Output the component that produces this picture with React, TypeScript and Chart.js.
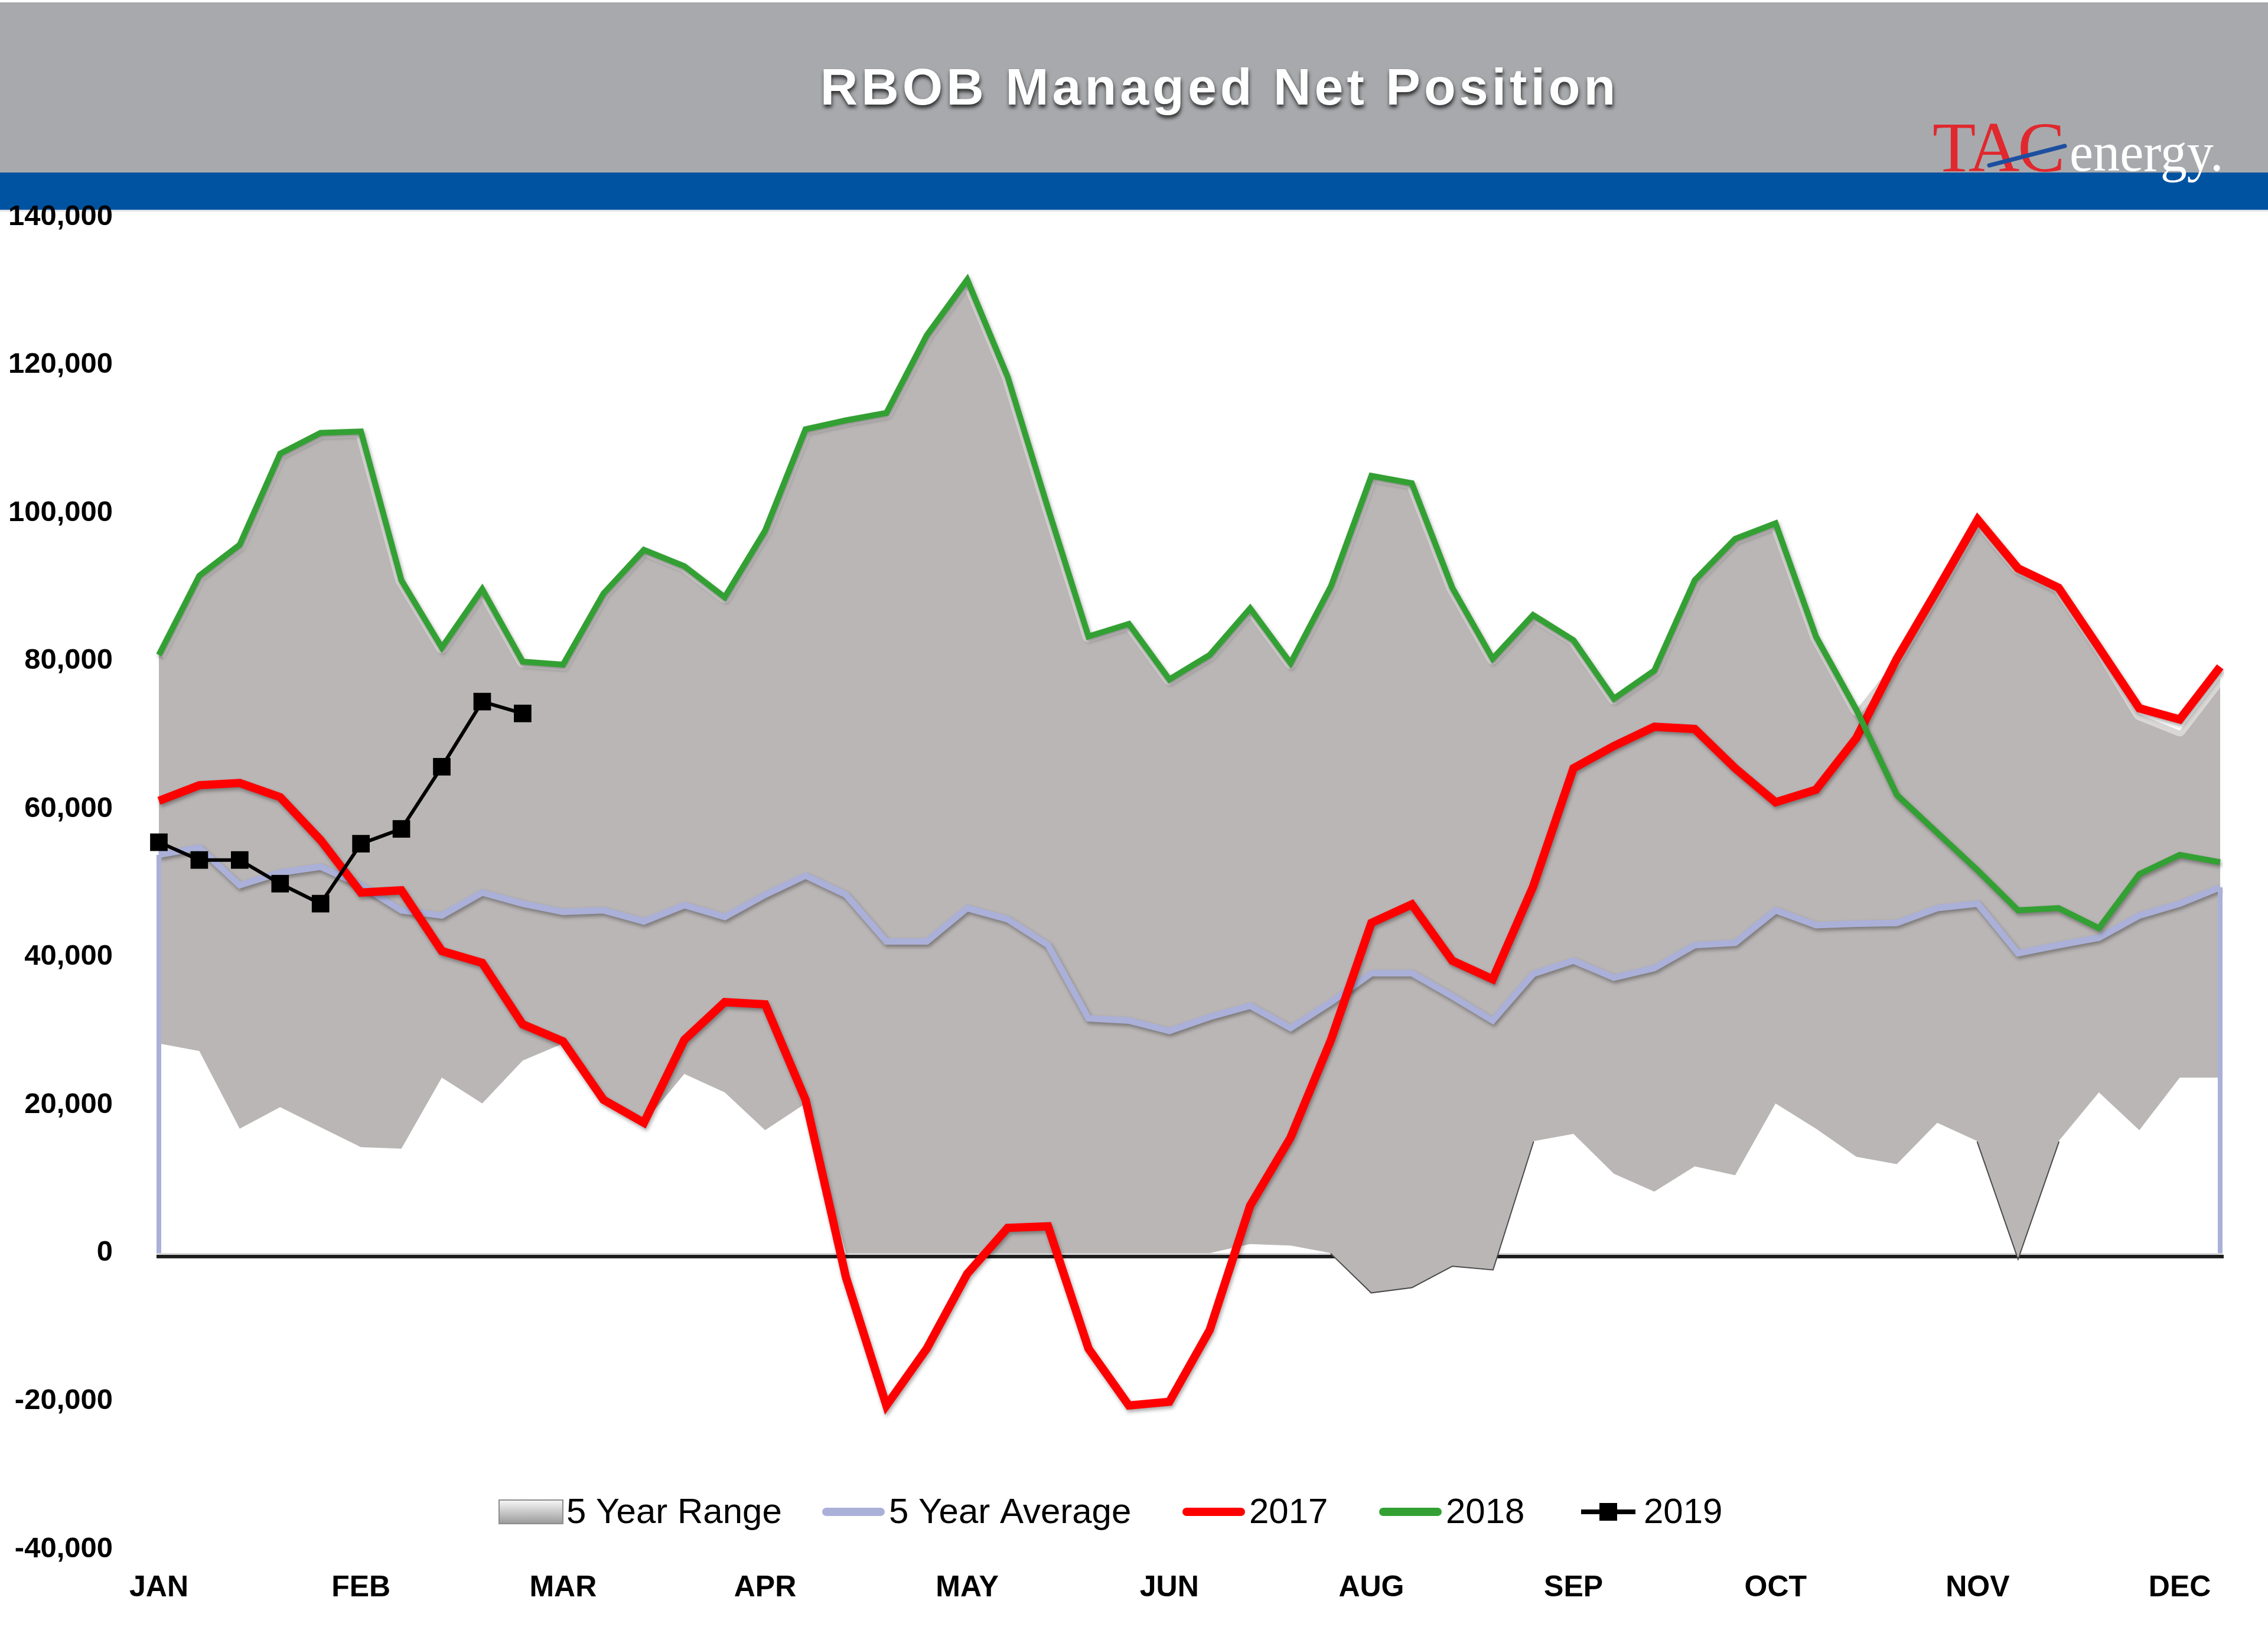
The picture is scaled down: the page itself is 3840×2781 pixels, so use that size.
import React, { useEffect, useRef } from 'react';
import { Chart, registerables } from 'chart.js';

Chart.register(...registerables);

// ---------- data ----------
const monthLabels = ['JAN', 'FEB', 'MAR', 'APR', 'MAY', 'JUN', 'AUG', 'SEP', 'OCT', 'NOV', 'DEC'];
const weekCount = 52;
const weeksPerLabel = 5;

const rangeMax = [
  80800, 91500, 95700, 108000, 110800, 111000, 90900, 81800, 89700, 79900,
  79500, 89100, 95000, 92800, 88600, 97600, 111300, 112500, 113500, 124000,
  131500, 118400, 100600, 83300, 85000, 77500, 80800, 87100, 79700, 90100,
  105000, 104000, 89900, 80300, 86200, 82800, 74900, 78700, 90900, 96500,
  98600, 83300, 73400, 80300, 89600, 99100, 92500, 89900, 81800, 72800,
  70600, 77700,
];
const rangeMin = [
  28300, 27300, 16800, 19700, 17000, 14300, 14100, 23700, 20200, 26000,
  28300, 20700, 17600, 24200, 21700, 16600, 20200, 0, 0, 0,
  0, 0, 0, 0, 0, 0, 0, 1200, 1000, 0,
  -5300, -4600, -1700, -2200, 15100, 16100, 10700, 8300, 11700, 10500,
  20200, 16800, 13000, 12000, 17600, 15100, -600, 15100, 21700, 16600,
  23700, 23700,
];
const avg5 = [
  53800, 54800, 49700, 51400, 52200, 49700, 46300, 45600, 48700, 47200,
  46100, 46300, 44800, 47000, 45400, 48400, 51000, 48400, 42100, 42100,
  46600, 45100, 41600, 31700, 31400, 30000, 31900, 33400, 30400, 33900,
  37800, 37800, 34700, 31400, 37700, 39500, 37200, 38500, 41600, 41900,
  46300, 44300, 44500, 44600, 46600, 47200, 40500, 41600, 42600, 45600,
  47200, 49400,
];
const y2017 = [
  61100, 63200, 63500, 61600, 55800, 48700, 49000, 40800, 39200, 30900,
  28600, 20700, 17600, 28800, 33900, 33600, 20700, -3300, -20600, -12900,
  -2800, 3400, 3600, -12900, -20600, -20100, -10400, 6400, 15600, 28800,
  44600, 47100, 39500, 37000, 49500, 65500, 68500, 71100, 70800, 65500,
  60900, 62600, 69600, 80300, 89600, 99100, 92500, 89900, 81800, 73600,
  72100, 79200,
];
const y2018 = [
  80800, 91500, 95700, 108000, 110800, 111000, 90900, 81800, 89700, 79900,
  79500, 89100, 95000, 92800, 88600, 97600, 111300, 112500, 113500, 124000,
  131500, 118400, 100600, 83300, 85000, 77500, 80800, 87100, 79700, 90100,
  105000, 104000, 89900, 80300, 86200, 82800, 74900, 78700, 90900, 96500,
  98600, 83300, 73400, 61900, 56800, 51700, 46300, 46600, 43900, 51200,
  53800, 52800,
];
const y2019 = [55500, 53100, 53100, 49900, 47200, 55300, 57300, 65700, 74500, 72900];

const yMin = -40000;
const yMax = 140000;
const yStep = 20000;

const titleText = 'RBOB Managed Net Position';
const legendLabels = ['5 Year Range', '5 Year Average', '2017', '2018', '2019'];

// ---------- styles / layout ----------
const W = 3840;
const H = 2781;
const SANS = '"Liberation Sans", Arial, sans-serif';
const SERIF = '"Liberation Serif", "Times New Roman", serif';
const C_RANGE = '#bab6b5';
const C_AVG = '#aab0d8';
const C_2017 = '#ff0000';
const C_2018 = '#33a033';
const C_2019 = '#000000';
const legendItemX = [845, 1391, 2001, 2334, 2669];

const categories = Array.from({ length: weekCount }, (_, i) =>
  i % weeksPerLabel === 0 ? monthLabels[i / weeksPerLabel] ?? '' : ''
);

// outline for the part of the range floor that dips below zero
const rangeMinNegative = rangeMin.map((v, i) => {
  const prev = i > 0 ? rangeMin[i - 1] : 0;
  const next = i < rangeMin.length - 1 ? rangeMin[i + 1] : 0;
  return v < 0 || prev < 0 || next < 0 ? v : null;
});

const bannerPlugin = {
  id: 'banner',
  beforeDraw(chart: any) {
    const ctx = chart.ctx as CanvasRenderingContext2D;
    ctx.save();
    ctx.fillStyle = '#ffffff';
    ctx.fillRect(0, 0, W, H);
    ctx.fillStyle = '#a7a9ac';
    ctx.fillRect(0, 4, W, 288);
    ctx.fillStyle = '#0053a1';
    ctx.fillRect(0, 292, W, 63);
    ctx.fillStyle = '#dde1e7';
    ctx.fillRect(0, 355, W, 3);

    // title
    ctx.font = `bold 88px ${SANS}`;
    (ctx as any).letterSpacing = '6px';
    ctx.textAlign = 'center';
    ctx.textBaseline = 'alphabetic';
    ctx.shadowColor = 'rgba(30,30,30,0.9)';
    ctx.shadowOffsetX = 1;
    ctx.shadowOffsetY = 5;
    ctx.shadowBlur = 6;
    ctx.fillStyle = '#ffffff';
    ctx.fillText(titleText, 2065, 177);
    ctx.restore();

    // logo
    ctx.save();
    ctx.textAlign = 'left';
    ctx.textBaseline = 'alphabetic';
    ctx.font = `120px ${SERIF}`;
    (ctx as any).letterSpacing = '-3px';
    ctx.fillStyle = '#e0282e';
    ctx.fillText('TAC', 3272, 290);
    ctx.strokeStyle = '#1d4f9f';
    ctx.lineWidth = 7;
    ctx.lineCap = 'round';
    ctx.beginPath();
    ctx.moveTo(3368, 280);
    ctx.lineTo(3496, 247);
    ctx.stroke();
    ctx.translate(3504, 289);
    ctx.scale(0.96, 1);
    (ctx as any).letterSpacing = '0px';
    ctx.font = `94px ${SERIF}`;
    ctx.fillStyle = '#ffffff';
    ctx.fillText('energy.', 0, 0);
    ctx.restore();
  },
};

const zeroLinePlugin = {
  id: 'zeroLine',
  beforeDatasetsDraw(chart: any) {
    const ctx = chart.ctx as CanvasRenderingContext2D;
    const { left, right } = chart.chartArea;
    const y0 = chart.scales.y.getPixelForValue(0);
    ctx.save();
    ctx.fillStyle = '#1c1c1c';
    ctx.fillRect(left - 4, y0 + 3, right - left + 10, 6);
    ctx.fillStyle = '#d6d6d8';
    ctx.fillRect(left - 4, y0 - 2, right - left + 8, 5);
    ctx.restore();
  },
};

const shadowPlugin = {
  id: 'lineShadow',
  beforeDatasetDraw(chart: any, args: any) {
    if (args.index >= 1 && args.index <= 3) {
      const ctx = chart.ctx as CanvasRenderingContext2D;
      ctx.save();
      ctx.shadowColor = 'rgba(0,0,0,0.35)';
      ctx.shadowBlur = 6;
      ctx.shadowOffsetY = 4;
      ctx.shadowOffsetX = 2;
    }
  },
  afterDatasetDraw(chart: any, args: any) {
    const ctx = chart.ctx as CanvasRenderingContext2D;
    if (args.index >= 1 && args.index <= 3) {
      ctx.restore();
    }
    if (args.index === 3) {
      // lavender edges of the average band down to zero
      const meta = chart.getDatasetMeta(3);
      const pts = meta.data;
      const y0 = chart.scales.y.getPixelForValue(0);
      ctx.save();
      ctx.strokeStyle = C_AVG;
      ctx.lineWidth = 8;
      [pts[0], pts[pts.length - 1]].forEach((p: any) => {
        ctx.beginPath();
        ctx.moveTo(p.x, p.y);
        ctx.lineTo(p.x, y0);
        ctx.stroke();
      });
      ctx.restore();
    }
  },
};

const legendPlugin = {
  id: 'customLegend',
  afterDraw(chart: any) {
    const ctx = chart.ctx as CanvasRenderingContext2D;
    ctx.save();
    ctx.font = `60px ${SANS}`;
    ctx.textBaseline = 'middle';
    ctx.textAlign = 'left';
    const cy = 2559;
    const iconW = 108;
    legendLabels.forEach((label, i) => {
      const x = legendItemX[i];
      if (i === 0) {
        const g = ctx.createLinearGradient(0, cy - 20, 0, cy + 20);
        g.addColorStop(0, '#f7f7f7');
        g.addColorStop(0.5, '#c9c9c9');
        g.addColorStop(1, '#9a9a9a');
        ctx.fillStyle = g;
        ctx.fillRect(x, cy - 20, iconW, 40);
        ctx.strokeStyle = '#8c8c8c';
        ctx.lineWidth = 2;
        ctx.strokeRect(x, cy - 20, iconW, 40);
      } else {
        const color = [C_RANGE, C_AVG, C_2017, C_2018, C_2019][i];
        ctx.strokeStyle = color;
        ctx.lineWidth = i === 4 ? 8 : 14;
        ctx.lineCap = i === 4 ? 'butt' : 'round';
        ctx.beginPath();
        ctx.moveTo(x + 8, cy);
        ctx.lineTo(x + iconW - 8, cy);
        ctx.stroke();
        if (i === 4) {
          ctx.fillStyle = C_2019;
          ctx.fillRect(x + iconW / 2 - 15, cy - 15, 30, 30);
        }
      }
      ctx.fillStyle = '#000';
      ctx.fillText(label, x + iconW + 6, cy + 2);
    });
    ctx.restore();
  },
};

export default function App() {
  const canvasRef = useRef<HTMLCanvasElement | null>(null);

  useEffect(() => {
    const canvas = canvasRef.current;
    if (!canvas) return;
    const chart = new Chart(canvas, {
      type: 'line',
      data: {
        labels: categories,
        datasets: [
          {
            label: '2019',
            data: y2019,
            borderColor: C_2019,
            backgroundColor: C_2019,
            borderWidth: 6,
            pointStyle: 'rect',
            pointRadius: 21,
            pointBorderWidth: 0,
            pointBackgroundColor: C_2019,
            fill: false,
            tension: 0,
            order: 0,
          },
          {
            label: '2018',
            data: y2018,
            borderColor: C_2018,
            borderWidth: 10,
            pointRadius: 0,
            fill: false,
            tension: 0,
            order: 1,
          },
          {
            label: '2017',
            data: y2017,
            borderColor: C_2017,
            borderWidth: 14,
            pointRadius: 0,
            fill: false,
            tension: 0,
            order: 2,
          },
          {
            label: '5 Year Average',
            data: avg5,
            borderColor: C_AVG,
            borderWidth: 11,
            pointRadius: 0,
            fill: false,
            tension: 0,
            order: 3,
          },
          {
            label: '5 Year Range',
            data: rangeMax,
            borderWidth: 20,
            borderColor: 'rgba(255,255,255,0.45)',
            borderJoinStyle: 'round',
            backgroundColor: C_RANGE,
            pointRadius: 0,
            fill: '+1',
            tension: 0,
            order: 4,
          },
          {
            label: 'Range Min',
            data: rangeMin,
            borderWidth: 0,
            borderColor: 'rgba(0,0,0,0)',
            backgroundColor: '#ffffff',
            pointRadius: 0,
            fill: 'origin',
            tension: 0,
            order: 5,
          },
          {
            label: 'Range Min Edge',
            data: rangeMinNegative,
            borderWidth: 4,
            borderColor: '#4a4a4a',
            pointRadius: 0,
            fill: false,
            spanGaps: false,
            tension: 0,
            order: 4.5,
          },
        ],
      },
      options: {
        responsive: false,
        devicePixelRatio: 1,
        animation: false,
        events: [],
        layout: { padding: { top: 367, left: 0, right: 81, bottom: 0 } },
        plugins: {
          legend: { display: false },
          title: { display: false },
          tooltip: { enabled: false },
        },
        scales: {
          x: {
            type: 'category',
            offset: false,
            grid: { display: false, drawTicks: false },
            border: { display: false },
            ticks: {
              autoSkip: false,
              maxRotation: 0,
              minRotation: 0,
              padding: 36,
              color: '#000',
              font: { family: SANS, size: 50, weight: 'bold' },
            },
            afterFit: (scale: any) => {
              scale.height = 159;
            },
          },
          y: {
            min: yMin,
            max: yMax,
            grid: { display: false, drawTicks: false },
            border: { display: false },
            ticks: {
              stepSize: yStep,
              padding: 78,
              color: '#000',
              font: { family: SANS, size: 49, weight: 'bold' },
              callback: (v: any) => Number(v).toLocaleString('en-US'),
            },
            afterFit: (scale: any) => {
              scale.width = 269;
            },
          },
        },
      },
      plugins: [bannerPlugin, zeroLinePlugin, shadowPlugin, legendPlugin],
    });
    return () => chart.destroy();
  }, []);

  return (
    <div style={{ position: 'absolute', left: 0, top: 0, width: W, height: H, background: '#fff' }}>
      <canvas ref={canvasRef} width={W} height={H} style={{ display: 'block', width: W, height: H }} />
    </div>
  );
}
